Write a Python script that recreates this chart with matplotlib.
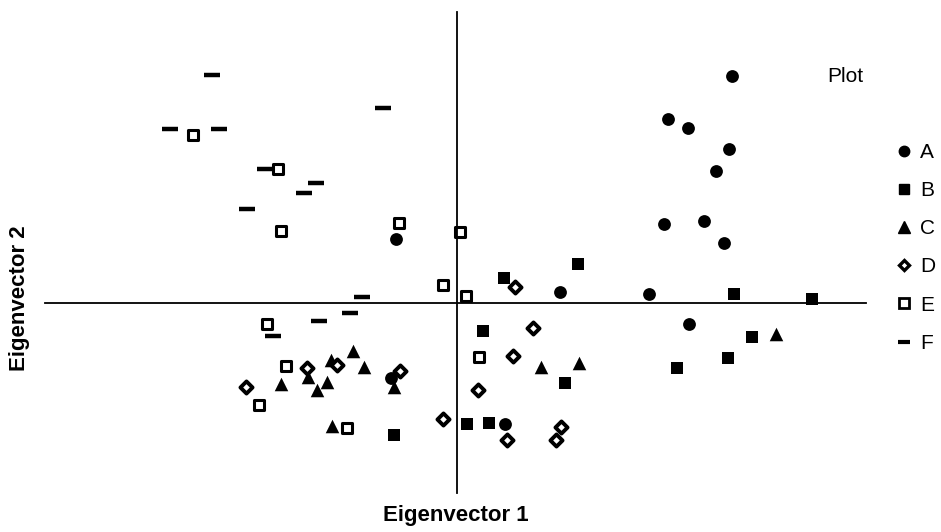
import matplotlib
matplotlib.use("Agg")
import matplotlib.pyplot as plt
from matplotlib.lines import Line2D

plt.rcParams['font.family'] = ['Liberation Sans', 'DejaVu Sans']

# eigenvector scores per plot group
a_x = [2.75, 2.11, 2.31, 2.72, 2.59, 2.07, 2.47, 2.67, -0.61, 1.03, 1.92, 2.32, 0.48, -0.66]
a_y = [2.27, 1.84, 1.75, 1.54, 1.32, 0.79, 0.82, 0.60, 0.64, 0.11, 0.09, -0.21, -1.21, -0.75]

b_x = [0.47, 1.21, 2.77, 3.55, 0.26, 2.95, 2.71, 2.20, 1.08, 0.10, 0.32, -0.63]
b_y = [0.25, 0.39, 0.09, 0.04, -0.28, -0.34, -0.55, -0.65, -0.80, -1.21, -1.20, -1.32]

c_x = [3.19, 0.84, 1.22, -1.04, -1.26, -0.93, -1.76, -1.49, -1.30, -1.40, -0.63, -1.25]
c_y = [-0.31, -0.64, -0.60, -0.48, -0.57, -0.64, -0.81, -0.74, -0.79, -0.87, -0.84, -1.23]

d_x = [0.58, 0.76, 0.56, 0.21, -0.14, 1.04, 0.50, 0.99, -2.11, -1.50, -1.20, -0.57]
d_y = [0.16, -0.25, -0.53, -0.87, -1.16, -1.24, -1.37, -1.37, -0.84, -0.65, -0.62, -0.68]

e_x = [-2.64, -1.79, -1.76, -0.58, 0.03, -0.14, 0.09, 0.22, -1.90, -1.71, -1.98, -1.10]
e_y = [1.68, 1.34, 0.72, 0.80, 0.71, 0.18, 0.07, -0.54, -0.21, -0.63, -1.02, -1.25]

f_x = [-2.45, -2.87, -2.38, -0.74, -1.92, -1.41, -1.53, -2.10, -0.95, -1.07, -1.38, -1.84]
f_y = [2.28, 1.74, 1.74, 1.95, 1.34, 1.20, 1.10, 0.94, 0.06, -0.10, -0.18, -0.33]

labels = ['A', 'B', 'C', 'D', 'E', 'F']

fig = plt.figure(figsize=(9.41, 5.32), dpi=100)
ax = fig.add_axes([45 / 941, 39 / 532, 821 / 941, 481 / 532])

ax.scatter(a_x, a_y, marker='o', s=85, c='black', linewidths=0)
ax.scatter(b_x, b_y, marker='s', s=70, c='black', linewidths=0)
ax.scatter(c_x, c_y, marker='^', s=95, c='black', linewidths=0)
ax.scatter(d_x, d_y, marker='D', s=38, facecolors='white', edgecolors='black', linewidths=2.8)
ax.scatter(e_x, e_y, marker='s', s=60, facecolors='white', edgecolors='black', linewidths=2.2)
ax.scatter(f_x, f_y, marker='_', s=120, c='black', linewidths=3.2)

ax.set_xlim(-4.12, 4.09)
ax.set_ylim(-1.90, 2.91)
for side in ['top', 'right']:
    ax.spines[side].set_visible(False)
ax.spines['left'].set_position('zero')
ax.spines['bottom'].set_position('zero')
ax.spines['left'].set_linewidth(1.3)
ax.spines['bottom'].set_linewidth(1.3)
ax.set_xticks([])
ax.set_yticks([])

fig.text(456 / 941, 1 - 516 / 532, 'Eigenvector 1', ha='center', va='center',
         fontsize=16, fontweight='bold')
fig.text(20 / 941, 1 - 298 / 532, 'Eigenvector 2', ha='center', va='center',
         rotation=90, fontsize=16, fontweight='bold')

fig.text(845 / 941, 1 - 77 / 532, 'Plot', ha='center', va='center', fontsize=15)

handles = [
    Line2D([], [], ls='none', marker='o', ms=7.5, mfc='black', mec='black'),
    Line2D([], [], ls='none', marker='s', ms=6.5, mfc='black', mec='black'),
    Line2D([], [], ls='none', marker='^', ms=8, mfc='black', mec='black'),
    Line2D([], [], ls='none', marker='D', ms=5, mfc='white', mec='black', mew=2.4),
    Line2D([], [], ls='none', marker='s', ms=7, mfc='white', mec='black', mew=2),
    Line2D([], [], ls='none', marker='_', ms=9, mec='black', mew=3),
]
fig.legend(handles, labels, loc='upper left', bbox_to_anchor=(896 / 941, 1 - 143 / 532),
           frameon=False, fontsize=15, handlelength=0.8, handletextpad=0.35,
           labelspacing=0.92, borderpad=0, borderaxespad=0)

fig.savefig('out.png', dpi=100)
